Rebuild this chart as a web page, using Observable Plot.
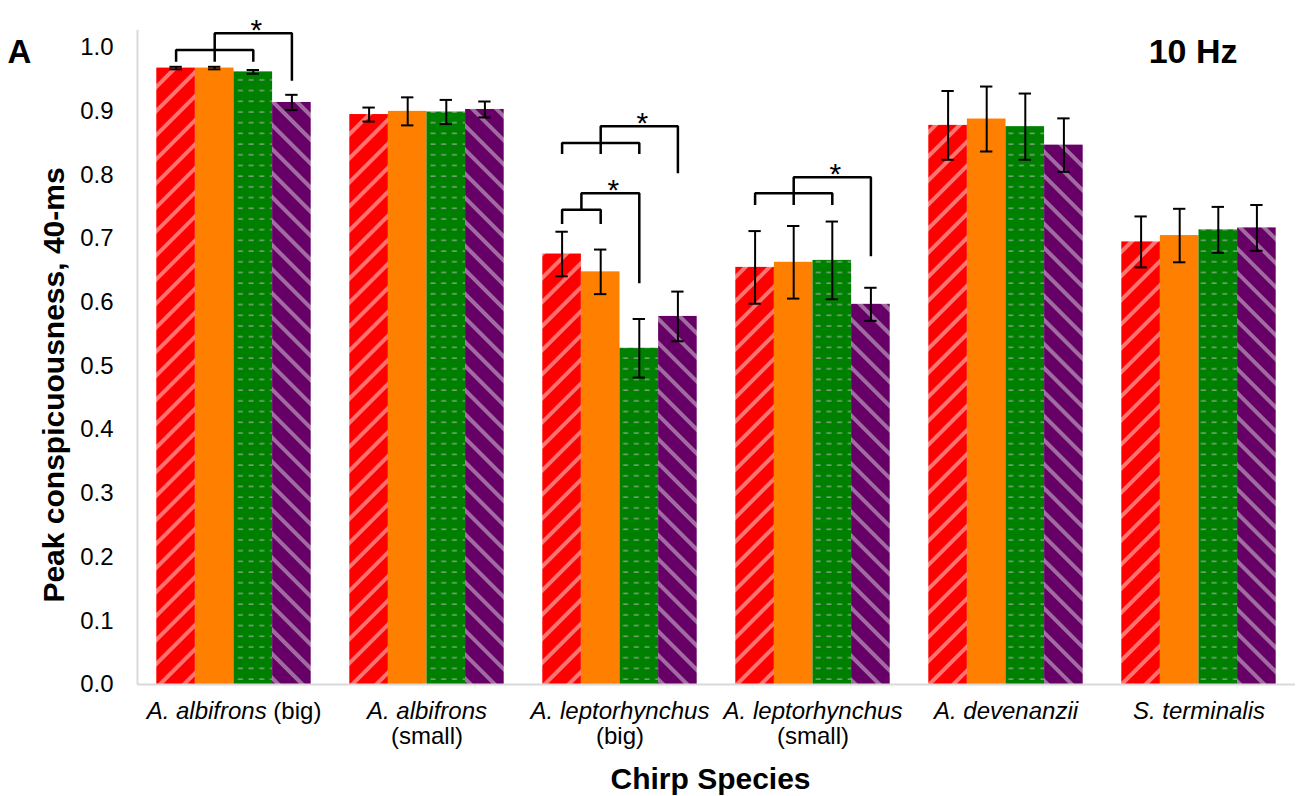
<!DOCTYPE html>
<html><head><meta charset="utf-8">
<script src="https://cdn.jsdelivr.net/npm/d3@7"></script>
<script src="https://cdn.jsdelivr.net/npm/@observablehq/plot@0.6"></script>
<style>
body{margin:0;background:#fff;}
#chart{width:1301px;height:796px;}
svg{font-family:"Liberation Sans",Arial,sans-serif;}
</style></head><body><div id="chart"></div>
<script>
// ---- data ----
const species = ["A. albifrons (big)", "A. albifrons\n(small)", "A. leptorhynchus\n(big)", "A. leptorhynchus\n(small)", "A. devenanzii", "S. terminalis"];
const series = ["Series 1", "Series 2", "Series 3", "Series 4"];
const means = [
  [0.968, 0.895, 0.676, 0.655, 0.878, 0.695],
  [0.968, 0.900, 0.648, 0.663, 0.888, 0.705],
  [0.962, 0.899, 0.528, 0.666, 0.876, 0.714],
  [0.914, 0.903, 0.578, 0.597, 0.847, 0.717]
];
const errors = [
  [0.002, 0.011, 0.035, 0.057, 0.054, 0.040],
  [0.002, 0.022, 0.035, 0.057, 0.051, 0.042],
  [0.003, 0.019, 0.046, 0.061, 0.052, 0.036],
  [0.012, 0.0125, 0.039, 0.026, 0.042, 0.036]
];
const yTicks = [0.0, 0.1, 0.2, 0.3, 0.4, 0.5, 0.6, 0.7, 0.8, 0.9, 1.0];
// significance brackets
const bracketSpecies   = [0, 2, 2, 3];
const bracketLeft      = [0, 0, 0, 0];
const bracketRight     = [2, 2, 1, 2];
const bracketTarget    = [3, 3, 2, 3];
const bracketLow       = [0.9964, 0.8504, 0.7457, 0.7713];
const bracketLegEnd    = [0.978, 0.833, 0.7232, 0.753];
const bracketHigh      = [1.0225, 0.8765, 0.7713, 0.7964];
const bracketTargetEnd = [0.948, 0.8027, 0.630, 0.6724];
const starLabel = "*";
const panelLabel = "A";
const frequencyLabel = "10 Hz";
const yTitle = "Peak conspicuousness, 40-ms";
const xTitle = "Chirp Species";

// ---- styles ----
const fills = ["url(#pat-red)", "#ff8000", "url(#pat-green)", "url(#pat-purple)"];
const FONT = "Liberation Sans, Arial, sans-serif";
const UNITS = 5; // 4 bars + gap per species

// ---- derived rows ----
const rows = [];
series.forEach((s, j) => species.forEach((sp, g) => {
  const c = g * UNITS + 1 + j;
  rows.push({series: s, j, species: sp, x1: c - 0.5, x2: c + 0.5, xc: c,
    v: means[j][g], lo: means[j][g] - errors[j][g], hi: means[j][g] + errors[j][g]});
}));
const caps = rows.flatMap(r => [{xc: r.xc, y: r.lo}, {xc: r.xc, y: r.hi}]);
const bracketPts = [];
const stars = [];
bracketSpecies.forEach((g, i) => {
  const base = g * UNITS + 1;
  const L = bracketLeft[i], R = bracketRight[i], T = bracketTarget[i];
  const mid = (L + R) / 2;
  const stemBottom = Number.isInteger(mid) ? bracketLegEnd[i] : bracketLow[i];
  [[L, bracketLegEnd[i]], [L, bracketLow[i]], [R, bracketLow[i]], [R, bracketLegEnd[i]]]
    .forEach(([s, y]) => bracketPts.push({id: "L" + i, x: base + s, y}));
  [[mid, stemBottom], [mid, bracketHigh[i]], [T, bracketHigh[i]], [T, bracketTargetEnd[i]]]
    .forEach(([s, y]) => bracketPts.push({id: "U" + i, x: base + s, y}));
  stars.push({x: base + (mid + T) / 2, y: bracketHigh[i], t: starLabel});
});

const plot = Plot.plot({
  width: 1301, height: 796,
  marginLeft: 137, marginRight: 6, marginTop: 30, marginBottom: 112,
  style: {fontFamily: FONT, background: "#fff", color: "#000"},
  x: {domain: [0, species.length * UNITS], axis: null},
  y: {domain: [0, 1.027], axis: null},
  marks: [
    ...series.map((s, j) => Plot.rectY(rows.filter(r => r.j === j),
      {x1: "x1", x2: "x2", y1: 0, y2: "v", fill: fills[j]})),
    Plot.ruleY([0], {stroke: "#d9d9d9", strokeWidth: 2}),
    Plot.ruleX([0], {stroke: "#d9d9d9", strokeWidth: 2}),
    Plot.axisY(yTicks, {tickSize: 0, tickPadding: 24, fontSize: 24, tickFormat: d => d.toFixed(1), label: null}),
    Plot.ruleX(rows, {x: "xc", y1: "lo", y2: "hi", stroke: "#000", strokeWidth: 2}),
    Plot.ruleY(caps, {y: "y", x1: d => d.xc - 0.16, x2: d => d.xc + 0.16, stroke: "#000", strokeWidth: 2}),
    Plot.line(bracketPts, {x: "x", y: "y", z: "id", stroke: "#000", strokeWidth: 2.5, strokeLinejoin: "miter", strokeLinecap: "butt"}),
    Plot.text(stars, {x: "x", y: "y", text: "t", fontSize: 30, lineAnchor: "bottom", dx: 3, dy: 7, fill: "#000"}),
    Plot.text(species, {x: (d, i) => i * UNITS + UNITS / 2, frameAnchor: "bottom", text: d => d, lineAnchor: "top",
      dy: 17, fontSize: 24, lineHeight: 1.04, fill: "#000"}),
    Plot.text([xTitle], {frameAnchor: "bottom", text: d => d, textAnchor: "middle", lineAnchor: "bottom", dx: -6, dy: 104.5, fontSize: 30, fontWeight: "bold", fill: "#000"}),
    Plot.text([yTitle], {frameAnchor: "left", text: d => d, textAnchor: "middle", rotate: -90, lineAnchor: "bottom", dx: -74, dy: 27.5, fontSize: 30, fontWeight: "bold", fill: "#000"}),
    Plot.text([frequencyLabel], {frameAnchor: "top-right", text: d => d, textAnchor: "end", lineAnchor: "bottom", dx: -58, dy: 32.7, fontSize: 34, fontWeight: "bold", fill: "#000"}),
    Plot.text([panelLabel], {frameAnchor: "top-left", text: d => d, textAnchor: "start", lineAnchor: "bottom", dx: -130, dy: 32.7, fontSize: 33, fontWeight: "bold", fill: "#000"})
  ]
});

// patterns
const defs = d3.select(plot).insert("defs", ":first-child");
function stripes(id, base, stripe, angle) {
  const p = defs.append("pattern").attr("id", id).attr("patternUnits", "userSpaceOnUse")
    .attr("width", 17).attr("height", 17).attr("patternTransform", `rotate(${angle})`);
  p.append("rect").attr("width", 17).attr("height", 17).attr("fill", base);
  p.append("rect").attr("width", 4).attr("height", 17).attr("fill", stripe);
}
stripes("pat-red", "#ff0000", "#ff7373", 45);
stripes("pat-purple", "#660066", "#a06ca0", -45);
const pg = defs.append("pattern").attr("id", "pat-green").attr("patternUnits", "userSpaceOnUse")
  .attr("width", 10.7).attr("height", 10.7);
pg.append("rect").attr("width", 10.7).attr("height", 10.7).attr("fill", "#008000");
pg.append("line").attr("x1", 2.5).attr("x2", 7.5).attr("y1", 5).attr("y2", 5)
  .attr("stroke", "#93a893").attr("stroke-width", 1.3);

// italic binomials in species labels
d3.select(plot).selectAll("text").each(function() {
  const nodes = this.querySelectorAll("tspan");
  const targets = nodes.length ? Array.from(nodes) : [this];
  targets.forEach(el => {
    const m = el.textContent.match(/^([A-Z]\. [a-z]+)(.*)$/);
    if (m) {
      el.textContent = "";
      d3.select(el).append("tspan").attr("font-style", "italic").text(m[1]);
      if (m[2]) d3.select(el).append("tspan").text(m[2]);
    }
  });
});

document.getElementById("chart").appendChild(plot);
</script></body></html>
